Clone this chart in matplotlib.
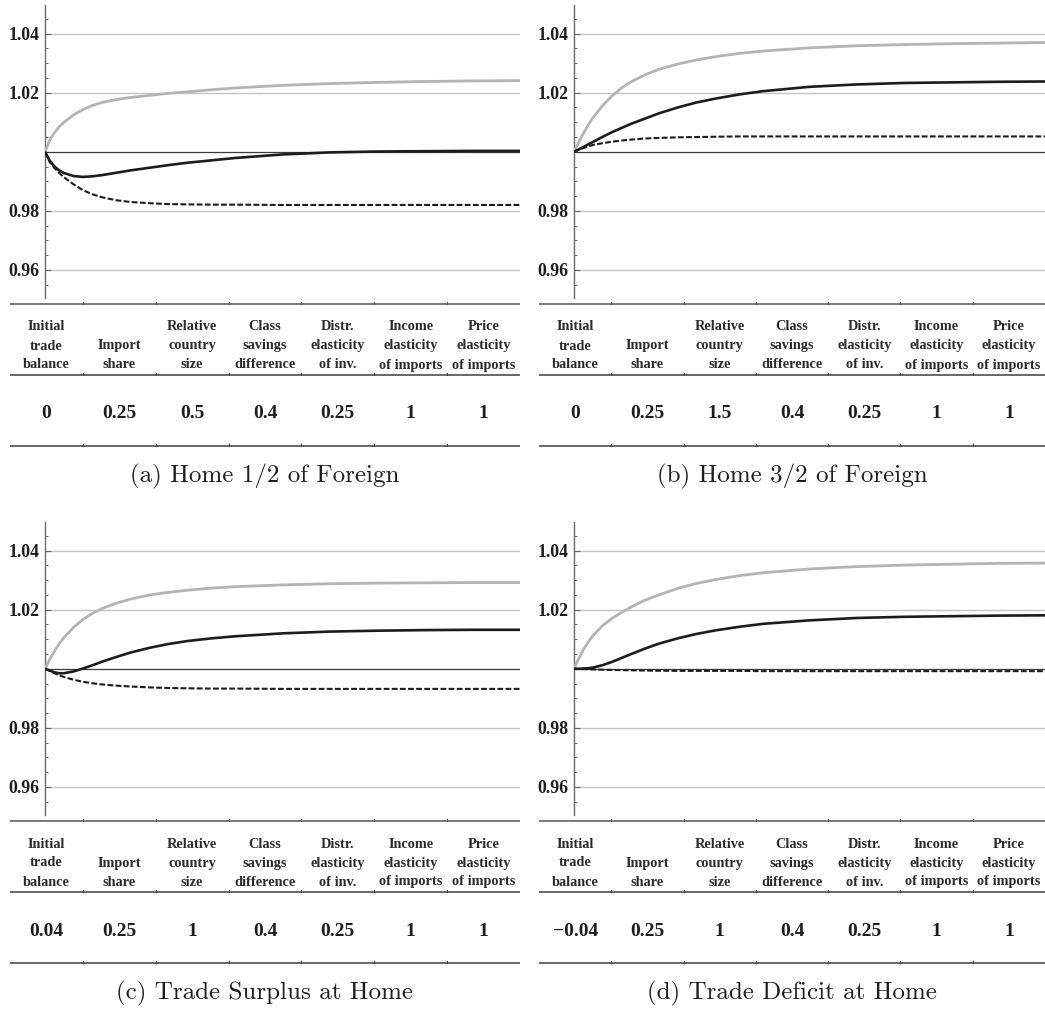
import matplotlib
matplotlib.use('Agg')
import matplotlib.pyplot as plt
from matplotlib.ticker import FixedLocator, NullFormatter

# ---------------- data ----------------
t = [0, 1, 2, 3, 4, 6, 8, 10, 12, 15, 18, 22, 26, 30, 35, 40, 50, 60, 70, 80, 90, 100]

gray_a = [1.0000, 1.0040, 1.0065, 1.0085, 1.0100, 1.0125, 1.0143, 1.0157, 1.0167, 1.0177, 1.0184,
          1.0191, 1.0198, 1.0203, 1.0210, 1.0216, 1.0225, 1.0231, 1.0235, 1.0238, 1.0240, 1.0241]
solid_a = [1.0000, 0.9970, 0.9950, 0.9937, 0.9928, 0.9918, 0.9915, 0.9917, 0.9921, 0.9929, 0.9937,
           0.9946, 0.9955, 0.9963, 0.9971, 0.9979, 0.9991, 0.9998, 1.0001, 1.0002, 1.0003, 1.0003]
dash_a = [1.0000, 0.9965, 0.9945, 0.9928, 0.9914, 0.9890, 0.9870, 0.9856, 0.9846, 0.9836, 0.9830,
          0.9826, 0.9823, 0.9822, 0.9821, 0.9821, 0.9820, 0.9820, 0.9820, 0.9820, 0.9820, 0.9820]

gray_b = [1.0000, 1.0032, 1.0062, 1.0090, 1.0115, 1.0155, 1.0188, 1.0215, 1.0236, 1.0260, 1.0279,
          1.0297, 1.0311, 1.0322, 1.0333, 1.0341, 1.0352, 1.0359, 1.0363, 1.0366, 1.0368, 1.0370]
solid_b = [1.0000, 1.0008, 1.0016, 1.0025, 1.0033, 1.0050, 1.0066, 1.0080, 1.0094, 1.0112, 1.0130,
           1.0150, 1.0167, 1.0180, 1.0194, 1.0205, 1.0220, 1.0228, 1.0233, 1.0235, 1.0237, 1.0238]
dash_b = [1.0000, 1.0007, 1.0013, 1.0018, 1.0023, 1.0029, 1.0034, 1.0038, 1.0041, 1.0045, 1.0047,
          1.0049, 1.0050, 1.0051, 1.0052, 1.0052, 1.0052, 1.0052, 1.0052, 1.0052, 1.0052, 1.0052]

gray_c = [1.0000, 1.0032, 1.0060, 1.0085, 1.0106, 1.0140, 1.0167, 1.0188, 1.0204, 1.0222, 1.0236,
          1.0250, 1.0259, 1.0266, 1.0273, 1.0278, 1.0284, 1.0288, 1.0290, 1.0291, 1.0292, 1.0292]
solid_c = [1.0000, 0.9994, 0.9988, 0.9985, 0.9985, 0.9991, 1.0001, 1.0012, 1.0024, 1.0040, 1.0055,
           1.0071, 1.0084, 1.0094, 1.0103, 1.0110, 1.0120, 1.0126, 1.0129, 1.0131, 1.0132, 1.0132]
dash_c = [1.0000, 0.9993, 0.9985, 0.9978, 0.9972, 0.9963, 0.9956, 0.9951, 0.9947, 0.9943, 0.9940,
          0.9937, 0.9935, 0.9934, 0.9933, 0.9933, 0.9932, 0.9932, 0.9932, 0.9932, 0.9932, 0.9932]

gray_d = [1.0000, 1.0035, 1.0065, 1.0090, 1.0112, 1.0145, 1.0170, 1.0190, 1.0208, 1.0232, 1.0250,
          1.0272, 1.0289, 1.0302, 1.0315, 1.0325, 1.0338, 1.0346, 1.0351, 1.0354, 1.0357, 1.0358]
solid_d = [1.0000, 1.0000, 1.0001, 1.0002, 1.0004, 1.0012, 1.0023, 1.0036, 1.0049, 1.0068, 1.0085,
           1.0103, 1.0118, 1.0130, 1.0142, 1.0152, 1.0164, 1.0172, 1.0176, 1.0178, 1.0180, 1.0181]
dash_d = [1.0000, 0.99995, 0.9999, 0.99985, 0.9998, 0.9997, 0.9996, 0.99955, 0.9995, 0.9994, 0.99935,
          0.9993, 0.9993, 0.9993, 0.9993, 0.9992, 0.9992, 0.9992, 0.9992, 0.9992, 0.9992, 0.9992]

header_labels = ["Initial\ntrade\nbalance", "Import\nshare", "Relative\ncountry\nsize",
                 "Class\nsavings\ndifference", "Distr.\nelasticity\nof inv.",
                 "Income\nelasticity\nof imports", "Price\nelasticity\nof imports"]
values_a = ["0", "0.25", "0.5", "0.4", "0.25", "1", "1"]
values_b = ["0", "0.25", "1.5", "0.4", "0.25", "1", "1"]
values_c = ["0.04", "0.25", "1", "0.4", "0.25", "1", "1"]
values_d = ["\u22120.04", "0.25", "1", "0.4", "0.25", "1", "1"]
captions = ["(a) Home 1/2 of Foreign", "(b) Home 3/2 of Foreign",
            "(c) Trade Surplus at Home", "(d) Trade Deficit at Home"]

ytick_values = [0.96, 0.98, 1.02, 1.04]
ytick_labels = ["0.96", "0.98", "1.02", "1.04"]
minor_ticks = [0.955, 0.96, 0.965, 0.97, 0.975, 0.98, 0.985, 0.99, 0.995, 1.0, 1.005, 1.01,
               1.015, 1.02, 1.025, 1.03, 1.035, 1.04, 1.045]

# ---------------- layout ----------------
W, H = 1045, 1009
fig = plt.figure(figsize=(W / 100, H / 100), dpi=100)
fig.patch.set_facecolor('white')

SERIF = ['Liberation Serif', 'DejaVu Serif']
TXT = '#1e1e1e'

over = fig.add_axes([0, 0, 1, 1])
over.set_xlim(0, W)
over.set_ylim(H, 0)
over.axis('off')

panels = [
    dict(ax_l=45, ax_r=520, tx0=10, tx1=520, dy=0, g=gray_a, s=solid_a, d=dash_a, v=values_a, cap=captions[0]),
    dict(ax_l=574, ax_r=1045, tx0=539, tx1=1045, dy=0, g=gray_b, s=solid_b, d=dash_b, v=values_b, cap=captions[1]),
    dict(ax_l=45, ax_r=520, tx0=10, tx1=520, dy=517, g=gray_c, s=solid_c, d=dash_c, v=values_c, cap=captions[2]),
    dict(ax_l=574, ax_r=1045, tx0=539, tx1=1045, dy=517, g=gray_d, s=solid_d, d=dash_d, v=values_d, cap=captions[3]),
]

for p in panels:
    dy = p['dy']
    top, bot = 5 + dy, 298 + dy
    ax = fig.add_axes([p['ax_l'] / W, 1 - bot / H, (p['ax_r'] - p['ax_l']) / W, (bot - top) / H])
    ax.set_facecolor('none')
    ax.set_xlim(t[0], t[-1])
    ax.set_ylim(0.9505, 1.0497)
    for sp in ['top', 'right', 'bottom']:
        ax.spines[sp].set_visible(False)
    ax.spines['left'].set_color('#6a6a6a')
    ax.spines['left'].set_linewidth(1.0)
    ax.set_xticks([])
    ax.yaxis.set_major_locator(FixedLocator(ytick_values))
    ax.set_yticklabels(ytick_labels)
    ax.yaxis.set_minor_locator(FixedLocator(minor_ticks))
    ax.yaxis.set_minor_formatter(NullFormatter())
    ax.tick_params(axis='y', which='major', direction='in', length=4, width=0.8,
                   color='#6a6a6a', pad=4, labelsize=12.8, labelcolor=TXT)
    ax.tick_params(axis='y', which='minor', direction='in', length=2.5, width=0.7, color='#6a6a6a')
    for lab in ax.get_yticklabels():
        lab.set_fontfamily(SERIF)
        lab.set_fontweight('bold')
    for yv in ytick_values:
        ax.axhline(yv, color='#c4c4c4', lw=1.0, zorder=1)
    ax.axhline(1.0, color='#3a3a3a', lw=0.9, zorder=2)
    ax.plot(t, p['g'], color='#b4b4b4', lw=2.0, zorder=3, solid_capstyle='butt')
    ax.plot(t, p['s'], color='#1c1c1c', lw=1.9, zorder=4, solid_capstyle='butt')
    ax.plot(t, p['d'], color='#1c1c1c', lw=1.5, dashes=(2.8, 1.1), zorder=5)

    # ---- table ----
    x0, x1 = p['tx0'], p['tx1']
    cw = (x1 - x0) / 7.0
    for yl, col in [(304 + dy, '#555555'), (375 + dy, '#404040'), (446 + dy, '#404040')]:
        over.plot([x0, x1], [yl, yl], color=col, lw=1.1, solid_capstyle='butt')
        for k in range(1, 7):
            xb = x0 + k * cw
            over.plot([xb, xb], [yl, yl - 2.5], color=col, lw=0.8)
    for k in range(7):
        xc = x0 + (k + 0.5) * cw
        lines = header_labels[k].split('\n')
        n = len(lines)
        for i, ln in enumerate(lines):
            yb = 368.5 + dy - (n - 1 - i) * 19
            over.text(xc, yb, ln, ha='center', va='baseline', fontsize=10.3,
                      fontweight='bold', family=SERIF, color='#2a2a2a')
        over.text(xc, 418.5 + dy, p['v'][k], ha='center', va='baseline', fontsize=14,
                  fontweight='bold', family=SERIF, color=TXT)
    over.text((x0 + x1) / 2, 482.5 + dy, p['cap'], ha='center', va='baseline', fontsize=18,
              family=['cmr10', 'DejaVu Serif'], color=TXT)

fig.savefig('out.png', dpi=100, facecolor='white')
